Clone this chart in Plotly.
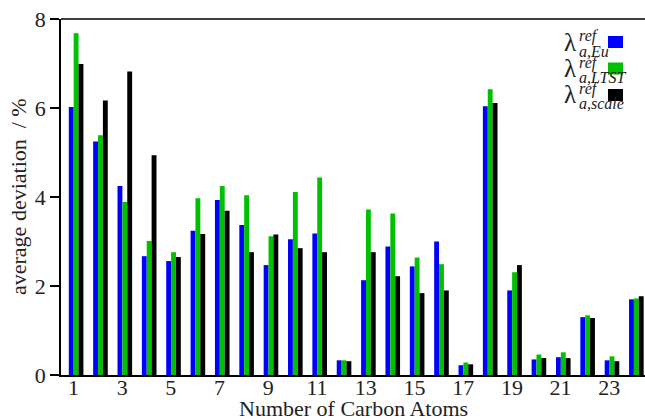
import plotly.graph_objects as go

# Number of carbon atoms per group
carbon_atoms = list(range(1, 25))

# Average deviation in % for each reference method
dev_eu = [6.02, 5.25, 4.25, 2.67, 2.56, 3.24, 3.93, 3.37, 2.47, 3.05, 3.18, 0.33,
          2.13, 2.89, 2.44, 3.00, 0.22, 6.04, 1.90, 0.35, 0.40, 1.30, 0.33, 1.70]
dev_ltst = [7.68, 5.39, 3.89, 3.01, 2.76, 3.97, 4.25, 4.04, 3.12, 4.11, 4.44, 0.33,
            3.72, 3.63, 2.64, 2.49, 0.28, 6.42, 2.31, 0.46, 0.51, 1.34, 0.42, 1.72]
dev_scale = [6.99, 6.17, 6.82, 4.94, 2.65, 3.17, 3.69, 2.76, 3.16, 2.85, 2.76, 0.31,
             2.76, 2.22, 1.84, 1.90, 0.24, 6.11, 2.47, 0.38, 0.38, 1.28, 0.31, 1.77]

x_ticks = list(range(1, 24, 2))
y_ticks = [0, 2, 4, 6, 8]

series = [
    ("a,Eu", dev_eu, "#0000ff", -0.19),
    ("a,LTST", dev_ltst, "#00c000", 0.01),
    ("a,scale", dev_scale, "#000000", 0.21),
]

FONT = "Liberation Serif"
TXT = "#222222"

fig = go.Figure()
for name, vals, color, off in series:
    fig.add_trace(go.Bar(
        x=carbon_atoms, y=vals, name=name,
        marker=dict(color=color, line=dict(width=0)),
        width=0.2, offset=off, showlegend=False,
    ))

# Plot-area geometry (pixels) used to place the key and titles
L, R, T, B = 61, 645, 19, 375
W, H = R - L, B - T


def px(x):
    return (x - L) / W


def py(y):
    return (B - y) / H


annotations = []
shapes = []
for i, (name, vals, color, off) in enumerate(series):
    yc = 41 + 26.5 * i
    annotations.append(dict(xref="paper", yref="paper", x=px(563), y=py(yc + 1),
                            text="λ", showarrow=False, xanchor="left", yanchor="middle",
                            borderpad=0,
                            font=dict(family=FONT, size=25, color=TXT)))
    annotations.append(dict(xref="paper", yref="paper", x=px(578), y=py(yc - 5),
                            text="<i>ref</i>", showarrow=False, xanchor="left", yanchor="middle",
                            borderpad=0,
                            font=dict(family=FONT, size=16, color=TXT)))
    annotations.append(dict(xref="paper", yref="paper", x=px(578), y=py(yc + 10),
                            text="<i>" + name + "</i>", showarrow=False, xanchor="left",
                            yanchor="middle", borderpad=0,
                            font=dict(family=FONT, size=16, color=TXT)))
    shapes.append(dict(type="rect", xref="paper", yref="paper",
                       x0=px(608), x1=px(623), y0=py(yc - 5), y1=py(yc + 7),
                       fillcolor=color, line=dict(width=0)))

# Axis titles
annotations.append(dict(xref="paper", yref="paper", x=px(353), y=py(409),
                        text="Number of Carbon Atoms", showarrow=False,
                        xanchor="center", yanchor="middle", borderpad=0,
                        font=dict(family=FONT, size=22, color=TXT)))
annotations.append(dict(xref="paper", yref="paper", x=px(18), y=py(197),
                        text="average deviation  / %", showarrow=False, textangle=-90,
                        xanchor="center", yanchor="middle",
                        font=dict(family=FONT, size=22, color=TXT)))

# Top frame line
shapes.append(dict(type="line", xref="paper", yref="paper", x0=0, x1=1, y0=1, y1=1,
                   line=dict(color="#000000", width=1.5)))

fig.update_layout(
    width=645, height=419,
    margin=dict(l=L, r=645 - R, t=T, b=419 - B, autoexpand=False),
    paper_bgcolor="white", plot_bgcolor="white",
    barmode="overlay",
    font=dict(family=FONT, size=22, color=TXT),
    annotations=annotations, shapes=shapes,
    xaxis=dict(
        range=[0.49, 24.465], tickmode="array", tickvals=x_ticks,
        ticktext=[str(v) for v in x_ticks], ticks="", showgrid=False, zeroline=False,
        showline=True, linecolor="#000000", linewidth=1.5, automargin=False,
        ticklabelstandoff=-8,
        tickfont=dict(family=FONT, size=22, color=TXT),
    ),
    yaxis=dict(
        range=[0, 8], tickmode="array", tickvals=y_ticks, ticks="outside", ticklen=9,
        tickwidth=1.5, tickcolor="#000000", showgrid=False, zeroline=False,
        showline=True, linecolor="#000000", linewidth=1.5, automargin=False,
        tickfont=dict(family=FONT, size=22, color=TXT),
    ),
)

fig.write_html("out.html")
